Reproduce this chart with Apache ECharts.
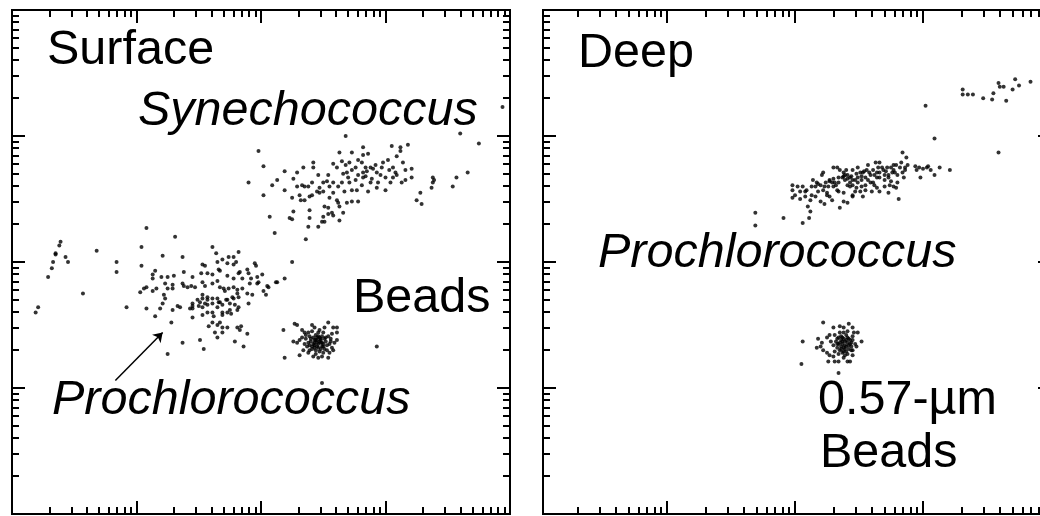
<!DOCTYPE html>
<html><head><meta charset="utf-8">
<script src="https://cdn.jsdelivr.net/npm/echarts@6/dist/echarts.min.js"></script>
<style>html,body{margin:0;padding:0;background:#fff}#c{width:1040px;height:516px}</style>
</head><body><div id="c"></div>
<script>
// Values are in decades of log fluorescence (x: side scatter / y: red fluorescence).
const surfaceSynechococcus = [
 [2.68,3.00],[3.60,3.02],[3.75,2.94],[3.94,3.23],[1.98,2.88],[2.63,2.87],[2.82,2.91],[3.05,2.92],[3.12,2.91],[3.12,2.88],
 [3.18,2.93],[2.73,2.87],[2.82,2.85],[2.86,2.86],[2.42,2.79],[2.42,2.75],[2.02,2.76],[2.19,2.72],[2.34,2.75],[2.29,2.71],
 [2.58,2.78],[2.61,2.75],[2.65,2.80],[2.71,2.79],[2.78,2.81],[2.81,2.79],[2.84,2.75],[2.85,2.72],[2.82,2.71],[2.88,2.75],
 [2.90,2.74],[2.98,2.79],[2.93,2.71],[2.97,2.75],[3.03,2.73],[3.06,2.75],[3.09,2.84],[3.14,2.79],[3.16,2.73],[3.21,2.74],
 [3.06,2.67],[3.09,2.69],[3.04,2.63],[3.00,2.57],[2.93,2.59],[2.94,2.63],[2.89,2.66],[2.88,2.63],[2.82,2.67],[2.81,2.61],
 [2.76,2.65],[2.77,2.57],[2.69,2.71],[2.66,2.70],[2.70,2.67],[2.71,2.63],[2.65,2.63],[2.62,2.60],[2.58,2.63],[2.55,2.60],
 [2.58,2.55],[2.53,2.64],[2.50,2.63],[2.47,2.59],[2.50,2.56],[2.45,2.56],[2.41,2.63],[2.38,2.60],[2.33,2.61],[2.35,2.60],
 [2.29,2.60],[2.26,2.66],[2.13,2.65],[2.09,2.61],[1.90,2.63],[2.02,2.53],[2.31,2.53],[2.32,2.49],[2.35,2.49],[2.39,2.52],
 [2.47,2.55],[2.55,2.51],[2.61,2.49],[2.51,2.44],[2.54,2.43],[2.62,2.47],[2.63,2.44],[2.69,2.47],[2.73,2.48],[2.78,2.48],
 [2.57,2.39],[2.58,2.37],[2.66,2.39],[2.63,2.33],[2.54,2.38],[2.50,2.36],[2.39,2.41],[2.39,2.35],[2.26,2.40],[2.23,2.35],
 [2.25,2.34],[2.07,2.36],[2.49,2.32],[2.51,2.32],[2.38,2.28],[2.46,2.28],[2.11,2.23],[2.36,2.18],[3.28,2.55],[3.25,2.49],
 [3.29,2.46],[3.37,2.59],[3.38,2.63],[3.39,2.65],[3.38,2.67],[3.54,2.60],[3.57,2.67],[3.66,2.71],[3.13,2.63],[3.16,2.65],
 [3.21,2.67],[2.68,2.77],[2.73,2.73],[2.78,2.69],[2.84,2.68],[2.92,2.77],[2.96,2.69],[3.02,2.81],[3.08,2.71],[2.54,2.69],
 [2.46,2.69],[2.41,2.53],[2.67,2.56],[2.73,2.57],[2.86,2.56],[2.19,2.57],[2.25,2.51],[2.76,2.75],[3.00,2.67]
];
const surfaceProchlorococcus = [
 [0.39,2.16],[0.38,2.13],[0.35,2.07],[0.35,2.06],[0.33,2.00],[0.32,1.95],[0.29,1.88],[0.43,2.04],[0.45,2.00],[0.21,1.64],
 [0.19,1.60],[0.57,1.75],[0.68,2.09],[0.84,2.00],[0.84,1.92],[0.92,1.64],[1.08,2.27],[1.31,2.20],[1.04,2.12],[1.04,1.97],
 [1.21,2.05],[1.37,2.04],[1.61,2.12],[1.64,2.07],[1.74,2.04],[1.78,2.04],[1.82,2.08],[1.69,2.02],[1.73,1.99],[1.65,2.00],
 [1.53,1.98],[1.55,1.97],[1.66,1.94],[1.67,1.93],[1.78,1.98],[1.80,2.00],[1.83,1.92],[1.82,1.91],[1.89,1.94],[1.90,1.91],
 [1.95,1.99],[1.96,1.97],[2.01,1.90],[1.97,1.88],[1.92,1.87],[1.85,1.87],[1.78,1.87],[1.73,1.89],[1.61,1.90],[1.57,1.91],
 [1.52,1.91],[1.45,1.88],[1.38,1.92],[1.30,1.89],[1.25,1.88],[1.20,1.88],[1.15,1.93],[1.13,1.90],[1.13,1.87],[1.23,1.83],
 [1.29,1.82],[1.29,1.79],[1.25,1.79],[1.16,1.79],[1.08,1.80],[1.06,1.79],[1.03,1.76],[1.13,1.77],[1.37,1.83],[1.38,1.81],
 [1.41,1.80],[1.44,1.81],[1.47,1.80],[1.53,1.84],[1.55,1.81],[1.61,1.83],[1.65,1.85],[1.67,1.80],[1.70,1.79],[1.71,1.77],
 [1.74,1.79],[1.78,1.80],[1.81,1.78],[1.85,1.79],[1.91,1.83],[1.97,1.83],[1.98,1.84],[2.05,1.81],[2.06,1.80],[2.13,1.84],
 [2.19,1.87],[2.02,1.77],[2.04,1.74],[1.93,1.74],[1.89,1.75],[1.81,1.75],[1.82,1.72],[1.77,1.72],[1.78,1.71],[1.72,1.70],
 [1.65,1.71],[1.66,1.68],[1.61,1.71],[1.57,1.72],[1.57,1.70],[1.53,1.74],[1.53,1.71],[1.51,1.68],[1.49,1.70],[1.45,1.67],
 [1.45,1.65],[1.43,1.63],[1.45,1.63],[1.50,1.65],[1.53,1.64],[1.55,1.67],[1.57,1.66],[1.61,1.67],[1.65,1.64],[1.67,1.68],
 [1.69,1.66],[1.73,1.70],[1.75,1.67],[1.79,1.66],[1.82,1.64],[1.81,1.62],[1.90,1.67],[1.75,1.62],[1.73,1.60],[1.76,1.59],
 [1.69,1.60],[1.69,1.58],[1.61,1.60],[1.62,1.57],[1.53,1.58],[1.57,1.60],[1.45,1.56],[1.35,1.64],[1.33,1.65],[1.29,1.62],
 [1.23,1.71],[1.21,1.67],[1.22,1.74],[1.19,1.63],[1.08,1.63],[1.15,1.57],[1.28,1.52],[1.58,1.49],[1.61,1.52],[1.65,1.50],
 [1.67,1.52],[1.69,1.48],[1.73,1.48],[1.63,1.44],[1.69,1.44],[1.81,1.48],[1.83,1.46],[1.84,1.49],[1.89,1.43],[1.65,1.40],
 [1.79,1.37],[1.86,1.33],[1.51,1.38],[1.37,1.36],[1.54,1.31],[1.25,1.27],[2.25,2.00],[2.12,1.84],[2.93,1.33]
];
const surfaceBeads = [
 [2.27,1.51],[2.29,1.50],[2.41,1.50],[2.54,1.52],[2.58,1.48],[2.61,1.48],[2.33,1.46],[2.35,1.44],[2.38,1.44],[2.43,1.48],
 [2.47,1.46],[2.51,1.48],[2.18,1.46],[2.26,1.37],[2.29,1.36],[2.31,1.38],[2.61,1.44],[2.61,1.38],[2.59,1.36],[2.57,1.32],
 [2.55,1.28],[2.54,1.24],[2.34,1.30],[2.38,1.28],[2.42,1.25],[2.46,1.24],[2.49,1.25],[2.31,1.26],[2.19,1.24],[2.49,1.04],
 [2.39,1.41],[2.42,1.40],[2.44,1.42],[2.47,1.40],[2.49,1.41],[2.51,1.39],[2.54,1.41],[2.40,1.37],[2.43,1.36],[2.45,1.38],
 [2.47,1.37],[2.50,1.35],[2.52,1.37],[2.55,1.35],[2.39,1.34],[2.41,1.33],[2.43,1.34],[2.46,1.32],[2.49,1.33],[2.51,1.31],
 [2.44,1.30],[2.47,1.29],[2.36,1.39],[2.35,1.35],[2.56,1.39],[2.46,1.44],[2.41,1.45],[2.50,1.44],[2.39,1.30],[2.53,1.30],
 [2.46,1.35],[2.45,1.40],[2.48,1.38],[2.42,1.35],[2.44,1.38],[2.48,1.36],[2.46,1.41],[2.43,1.32],[2.50,1.33],[2.37,1.33],
 [2.40,1.39],[2.43,1.38],[2.45,1.36],[2.48,1.39],[2.52,1.40],[2.49,1.36],[2.53,1.34],[2.41,1.31],[2.45,1.33],[2.48,1.31],
 [2.38,1.36],[2.56,1.37],[2.50,1.28],[2.44,1.27],[2.36,1.42],[2.57,1.43],[2.33,1.40],[2.58,1.30]
];
const deepOutliers = [
 [3.31,3.37],[3.31,3.33],[3.35,3.33],[3.39,3.33],[3.47,3.30],[3.54,3.29],[3.55,3.34],[3.59,3.42],[3.60,3.39],[3.63,3.39],
 [3.65,3.28],[3.70,3.37],[3.72,3.45],[3.75,3.40],[3.84,3.43],[3.02,3.24],[3.09,2.98],[3.59,2.87]
];
const deepProchlorococcus = [
 [1.69,2.39],[1.69,2.29],[1.91,2.35],[2.06,2.31],[2.11,2.35],[2.10,2.44],[2.12,2.40],[1.98,2.61],[1.98,2.57],[2.02,2.60],
 [2.06,2.60],[1.98,2.51],[2.04,2.50],[2.08,2.52],[2.08,2.56],[2.14,2.65],[2.17,2.63],[2.16,2.60],[2.20,2.61],[2.21,2.69],
 [2.22,2.71],[2.22,2.57],[2.25,2.55],[2.27,2.52],[2.20,2.48],[2.23,2.46],[2.27,2.65],[2.29,2.63],[2.31,2.63],[2.30,2.75],
 [2.33,2.75],[2.26,2.60],[2.30,2.60],[2.34,2.56],[2.38,2.55],[2.34,2.67],[2.37,2.67],[2.39,2.65],[2.35,2.73],[2.38,2.71],
 [2.41,2.69],[2.43,2.67],[2.45,2.73],[2.41,2.61],[2.43,2.60],[2.45,2.61],[2.47,2.65],[2.49,2.67],[2.51,2.71],[2.53,2.71],
 [2.56,2.73],[2.55,2.67],[2.57,2.65],[2.59,2.69],[2.48,2.59],[2.51,2.56],[2.45,2.52],[2.53,2.52],[2.35,2.43],[2.38,2.48],
 [2.41,2.47],[2.60,2.56],[2.64,2.59],[2.61,2.63],[2.64,2.67],[2.66,2.67],[2.63,2.79],[2.65,2.75],[2.66,2.79],[2.69,2.73],
 [2.72,2.75],[2.70,2.69],[2.73,2.67],[2.76,2.71],[2.77,2.73],[2.77,2.77],[2.74,2.61],[2.77,2.60],[2.79,2.59],[2.80,2.69],
 [2.84,2.71],[2.86,2.73],[2.84,2.87],[2.87,2.83],[2.88,2.77],[2.86,2.75],[2.85,2.67],[2.81,2.50],[2.94,2.76],[2.95,2.73],
 [2.97,2.75],[3.00,2.74],[3.03,2.75],[3.04,2.76],[3.06,2.73],[3.09,2.69],[2.98,2.67],[3.13,2.75],[3.21,2.73],[2.66,2.56],
 [2.73,2.55],[2.39,2.69],[2.45,2.65],[2.49,2.63],[2.52,2.65],[2.55,2.61],[2.59,2.63],[2.62,2.69],[2.66,2.71],[2.70,2.65],
 [2.73,2.69],[2.78,2.71],[2.82,2.75],[2.32,2.61],[2.24,2.63],[2.18,2.56],[2.13,2.53],
 [2.00,2.53],[2.04,2.56],[2.09,2.57],[2.13,2.60],[2.18,2.62],[2.23,2.60],[2.27,2.64],[2.30,2.66],[2.34,2.63],[2.38,2.68],
 [2.41,2.66],[2.44,2.68],[2.48,2.70],[2.52,2.68],[2.54,2.72],[2.58,2.71],[2.61,2.73],[2.64,2.71],[2.68,2.75],[2.71,2.72],
 [2.75,2.75],[2.79,2.77],[2.83,2.79],[2.43,2.63],[2.52,2.60],[2.62,2.61],[2.33,2.57],[2.25,2.53],[2.16,2.52],[2.47,2.56],
 [2.55,2.57],[2.70,2.60],[2.75,2.64],[2.80,2.63],[2.12,2.49],[2.29,2.49],[2.45,2.53],[2.57,2.77],[2.49,2.75],[2.40,2.73]
];
const deepBeads = [
 [2.22,1.52],[2.30,1.48],[2.35,1.49],[2.38,1.48],[2.42,1.51],[2.45,1.48],[2.46,1.44],[2.49,1.44],[2.52,1.37],[2.06,1.37],
 [2.18,1.39],[2.21,1.36],[2.20,1.33],[2.17,1.32],[2.25,1.40],[2.27,1.42],[2.22,1.30],[2.25,1.28],[2.27,1.26],[2.26,1.21],
 [2.30,1.25],[2.31,1.21],[2.34,1.21],[2.38,1.24],[2.41,1.21],[2.43,1.21],[2.45,1.26],[2.45,1.30],[2.48,1.33],[2.05,1.19],
 [2.34,1.12],[2.31,1.42],[2.34,1.40],[2.36,1.41],[2.38,1.39],[2.41,1.40],[2.43,1.38],[2.32,1.37],[2.34,1.35],[2.37,1.37],
 [2.39,1.34],[2.41,1.36],[2.44,1.33],[2.33,1.32],[2.35,1.30],[2.38,1.32],[2.40,1.29],[2.42,1.31],[2.36,1.33],[2.38,1.44],
 [2.41,1.45],[2.30,1.34],[2.45,1.41],[2.34,1.27],[2.39,1.26],[2.36,1.38],[2.40,1.38],[2.37,1.35],[2.43,1.35],[2.39,1.31],
 [2.33,1.39],[2.35,1.36],[2.37,1.40],[2.39,1.37],[2.42,1.39],[2.44,1.36],[2.36,1.31],[2.40,1.33],[2.42,1.34],[2.38,1.29],
 [2.33,1.35],[2.45,1.38],[2.35,1.44],[2.40,1.42],[2.31,1.29],[2.44,1.30],[2.37,1.28],[2.41,1.27],[2.47,1.35],[2.28,1.37]
];
// arrow in the Surface panel (tail -> head), in decades
const arrowSurface = [[0.83,1.06],[1.21,1.44]];

// axis ticks (decades)
const majorTickDecades = [1, 2, 3];
const minorTickFactors = [2, 3, 4, 5, 6, 7, 8, 9];
const minorTickDecades = [];
[0, 1, 2, 3].forEach(function (d) { minorTickFactors.forEach(function (f) { minorTickDecades.push(d + Math.log10(f)); }); });

// texts
const labelSurface = 'Surface';
const labelSyn = 'Synechococcus';
const labelBeads = 'Beads';
const labelPro = 'Prochlorococcus';
const labelDeep = 'Deep';
const labelBeadSize = '0.57-\u00b5m';

const FONT = '"Liberation Sans", Arial, Helvetica, sans-serif';
const FS = 48.5;

function tickAxis(gridIndex, position, values, len, min, max) {
  return {
    type: 'value', gridIndex: gridIndex, position: position, min: min, max: max, offset: 0,
    axisLine: { show: false, onZero: false },
    axisLabel: { show: false },
    splitLine: { show: false },
    axisTick: { show: true, inside: true, length: len, customValues: values, lineStyle: { color: '#000', width: 2 } }
  };
}
const MAJ = 13, MIN = 7;
const panelX = [[0, 4], [0.031, 4]];
const panelY = [[0, 4], [0, 4]];
const xAxes = [], yAxes = [];
[0, 1].forEach(function (g) {
  ['bottom', 'top'].forEach(function (p) {
    xAxes.push(tickAxis(g, p, majorTickDecades, MAJ, panelX[g][0], panelX[g][1]));
    xAxes.push(tickAxis(g, p, minorTickDecades, MIN, panelX[g][0], panelX[g][1]));
  });
  ['left', 'right'].forEach(function (p) {
    yAxes.push(tickAxis(g, p, majorTickDecades, MAJ, panelY[g][0], panelY[g][1]));
    yAxes.push(tickAxis(g, p, minorTickDecades, MIN, panelY[g][0], panelY[g][1]));
  });
});

function dots(data, g) {
  return { type: 'scatter', xAxisIndex: g * 4, yAxisIndex: g * 4, data: data, symbolSize: 4,
    itemStyle: { color: '#000' }, silent: true, animation: false };
}
function txt(s, x, baseline, italic) {
  return { type: 'text', x: x, y: baseline - 0.3465 * FS, silent: true,
    style: { text: s, fontSize: FS, fontFamily: FONT, fontStyle: italic ? 'italic' : 'normal',
      fill: '#000', align: 'left', verticalAlign: 'middle' } };
}

const chart = echarts.init(document.getElementById('c'), null, { renderer: 'canvas' });
const proSeries = dots(surfaceProchlorococcus, 0);
proSeries.markLine = { silent: true, animation: false, symbol: ['none', 'arrow'], symbolSize: 9,
  label: { show: false }, lineStyle: { color: '#000', width: 1.5, type: 'solid' },
  data: [[{ coord: arrowSurface[0] }, { coord: arrowSurface[1] }]] };
chart.setOption({
  animation: false,
  backgroundColor: '#fff',
  grid: [
    { left: 12, top: 10, width: 498, height: 504, show: true, borderColor: '#000', borderWidth: 2, containLabel: false, outerBoundsMode: 'none' },
    { left: 543, top: 10, width: 508, height: 504, show: true, borderColor: '#000', borderWidth: 2, containLabel: false, outerBoundsMode: 'none' }
  ],
  xAxis: xAxes,
  yAxis: yAxes,
  series: [
    dots(surfaceSynechococcus, 0), proSeries, dots(surfaceBeads, 0),
    dots(deepOutliers, 1), dots(deepProchlorococcus, 1), dots(deepBeads, 1)
  ],
  graphic: [
    txt(labelSurface, 47, 67, false),
    txt(labelSyn, 138, 128, true),
    txt(labelBeads, 353, 315, false),
    txt(labelPro, 52, 417, true),
    txt(labelDeep, 578, 70, false),
    txt(labelPro, 598, 270, true),
    txt(labelBeadSize, 818, 417, false),
    txt(labelBeads, 820, 470, false)
  ]
});
</script></body></html>
